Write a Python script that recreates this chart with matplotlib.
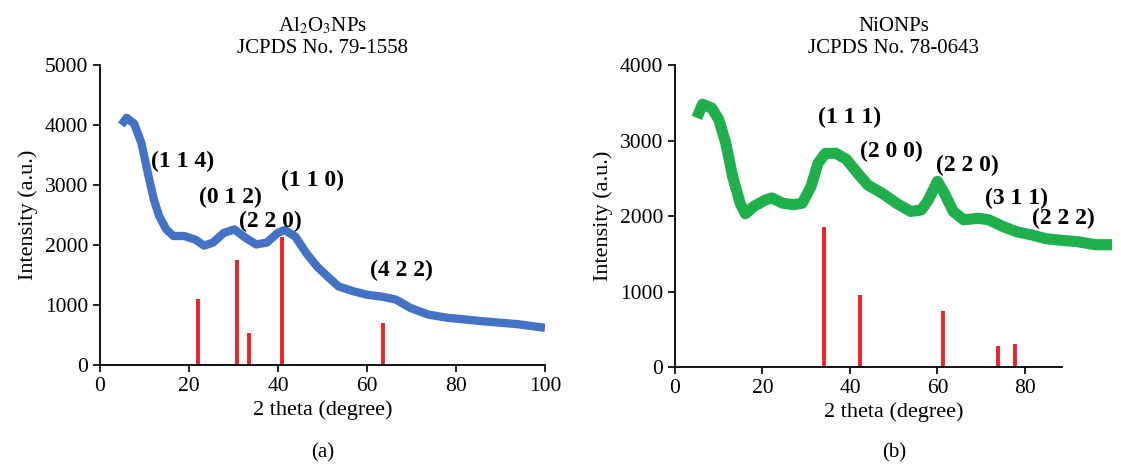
import numpy as np
import matplotlib
matplotlib.use("Agg")
import matplotlib.pyplot as plt

# XRD pattern of Al2O3 NPs
al_theta = [4.8, 6.0, 7.7, 9.3, 10.9, 12.1, 13.3, 14.9, 16.5, 18.9, 21.4, 23.4, 25.4,
            27.8, 30.2, 32.7, 35.1, 37.5, 39.9, 41.5, 43.9, 46.4, 48.8, 51.2, 53.6,
            56.9, 60.1, 63.3, 66.5, 69.8, 73.8, 77.8, 81.9, 85.9, 89.9, 93.9, 97.9, 100]
al_int = [4000, 4120, 4020, 3700, 3150, 2760, 2480, 2260, 2150, 2150, 2090, 1990, 2040,
          2200, 2260, 2120, 2010, 2040, 2200, 2250, 2140, 1860, 1640, 1470, 1310,
          1230, 1170, 1140, 1090, 950, 840, 790, 760, 730, 705, 680, 640, 620]
al_ref_theta = [22.0, 30.8, 33.4, 41.0, 63.7]
al_ref_int = [1100, 1750, 530, 2130, 700]
al_hkl = ["(1 1 4)", "(0 1 2)", "(2 2 0)", "(1 1 0)", "(4 2 2)"]
al_hkl_x = [18.5, 29.4, 38.3, 47.8, 67.7]
al_hkl_y = [3390, 2800, 2385, 3070, 1575]

# XRD pattern of NiO NPs
ni_theta = [5.0, 6.3, 8.4, 10.0, 11.6, 13.2, 14.9, 16.1, 18.1, 20.6, 22.2, 24.6, 27.1,
            29.1, 31.1, 32.7, 34.4, 36.8, 39.2, 41.7, 44.1, 47.4, 50.6, 53.9, 56.3,
            57.9, 60.0, 61.6, 63.6, 66.0, 69.3, 71.7, 75.0, 78.2, 81.5, 84.7, 88.0,
            92.0, 96.1, 100]
ni_int = [3300, 3480, 3430, 3280, 2970, 2520, 2170, 2030, 2130, 2210, 2240, 2170, 2150,
          2170, 2390, 2700, 2830, 2830, 2750, 2570, 2410, 2300, 2170, 2060, 2080,
          2210, 2460, 2300, 2060, 1950, 1970, 1950, 1860, 1790, 1750, 1700, 1680,
          1660, 1620, 1620]
ni_ref_theta = [34.0, 42.4, 61.2, 73.8, 77.7]
ni_ref_int = [1850, 960, 740, 280, 300]
ni_hkl = ["(1 1 1)", "(2 0 0)", "(2 2 0)", "(3 1 1)", "(2 2 2)"]
ni_hkl_x = [39.9, 49.4, 66.9, 78.1, 88.8]
ni_hkl_y = [3310, 2860, 2670, 2230, 1970]

plt.rcParams['font.family'] = ['Liberation Serif', 'DejaVu Serif']
plt.rcParams['mathtext.fontset'] = 'stix'

fig = plt.figure(figsize=(11.21, 4.67), dpi=100)
ax1 = fig.add_axes([0.0892, 0.2184, 0.3970, 0.6424])
ax2 = fig.add_axes([0.6021, 0.2141, 0.3903, 0.6467])

red = "#E8232B"


def style(ax):
    for s in ["top", "right"]:
        ax.spines[s].set_visible(False)
    ax.spines["left"].set_linewidth(1.3)
    ax.spines["bottom"].set_linewidth(1.3)
    ax.tick_params(direction="out", length=5, width=1.2, labelsize=15.5)
    ax.set_xlabel("2 theta (degree)", fontsize=16, labelpad=3)
    ax.set_ylabel("Intensity (a.u.)", fontsize=16, labelpad=5)


# (a) Al2O3
ax1.plot(al_theta, al_int, color="#4472C4", lw=6, solid_capstyle="butt")
ax1.vlines(al_ref_theta, 0, al_ref_int, color=red, lw=2.8)
for t, x, y in zip(al_hkl, al_hkl_x, al_hkl_y):
    ax1.text(x, y, t, fontsize=17, fontweight="bold", ha="center", va="center")
ax1.set_xlim(0, 100)
ax1.set_ylim(0, 5000)
ax1.set_xticks(np.arange(0, 101, 20))
ax1.set_yticks(np.arange(0, 5001, 1000))
style(ax1)
ax1.set_title("Al$_2$O$_3$NPs\nJCPDS No. 79-1558", fontsize=15, linespacing=1.15, pad=9)
fig.text(0.2877, 0.01, "(a)", ha="center", va="bottom", fontsize=15)

# (b) NiO
ax2.plot(ni_theta, ni_int, color="#1FAF4B", lw=8, solid_capstyle="butt")
ax2.vlines(ni_ref_theta, 0, ni_ref_int, color=red, lw=2.8)
for t, x, y in zip(ni_hkl, ni_hkl_x, ni_hkl_y):
    ax2.text(x, y, t, fontsize=17, fontweight="bold", ha="center", va="center")
ax2.set_xlim(0, 100)
ax2.set_ylim(0, 4000)
ax2.set_xticks(np.arange(0, 81, 20))
ax2.set_yticks(np.arange(0, 4001, 1000))
ax2.spines["bottom"].set_bounds(0, 88.5)
style(ax2)
ax2.set_title("NiONPs\nJCPDS No. 78-0643", fontsize=15, linespacing=1.15, pad=9)
fig.text(0.7973, 0.01, "(b)", ha="center", va="bottom", fontsize=15)

fig.savefig("out.png", dpi=100)
